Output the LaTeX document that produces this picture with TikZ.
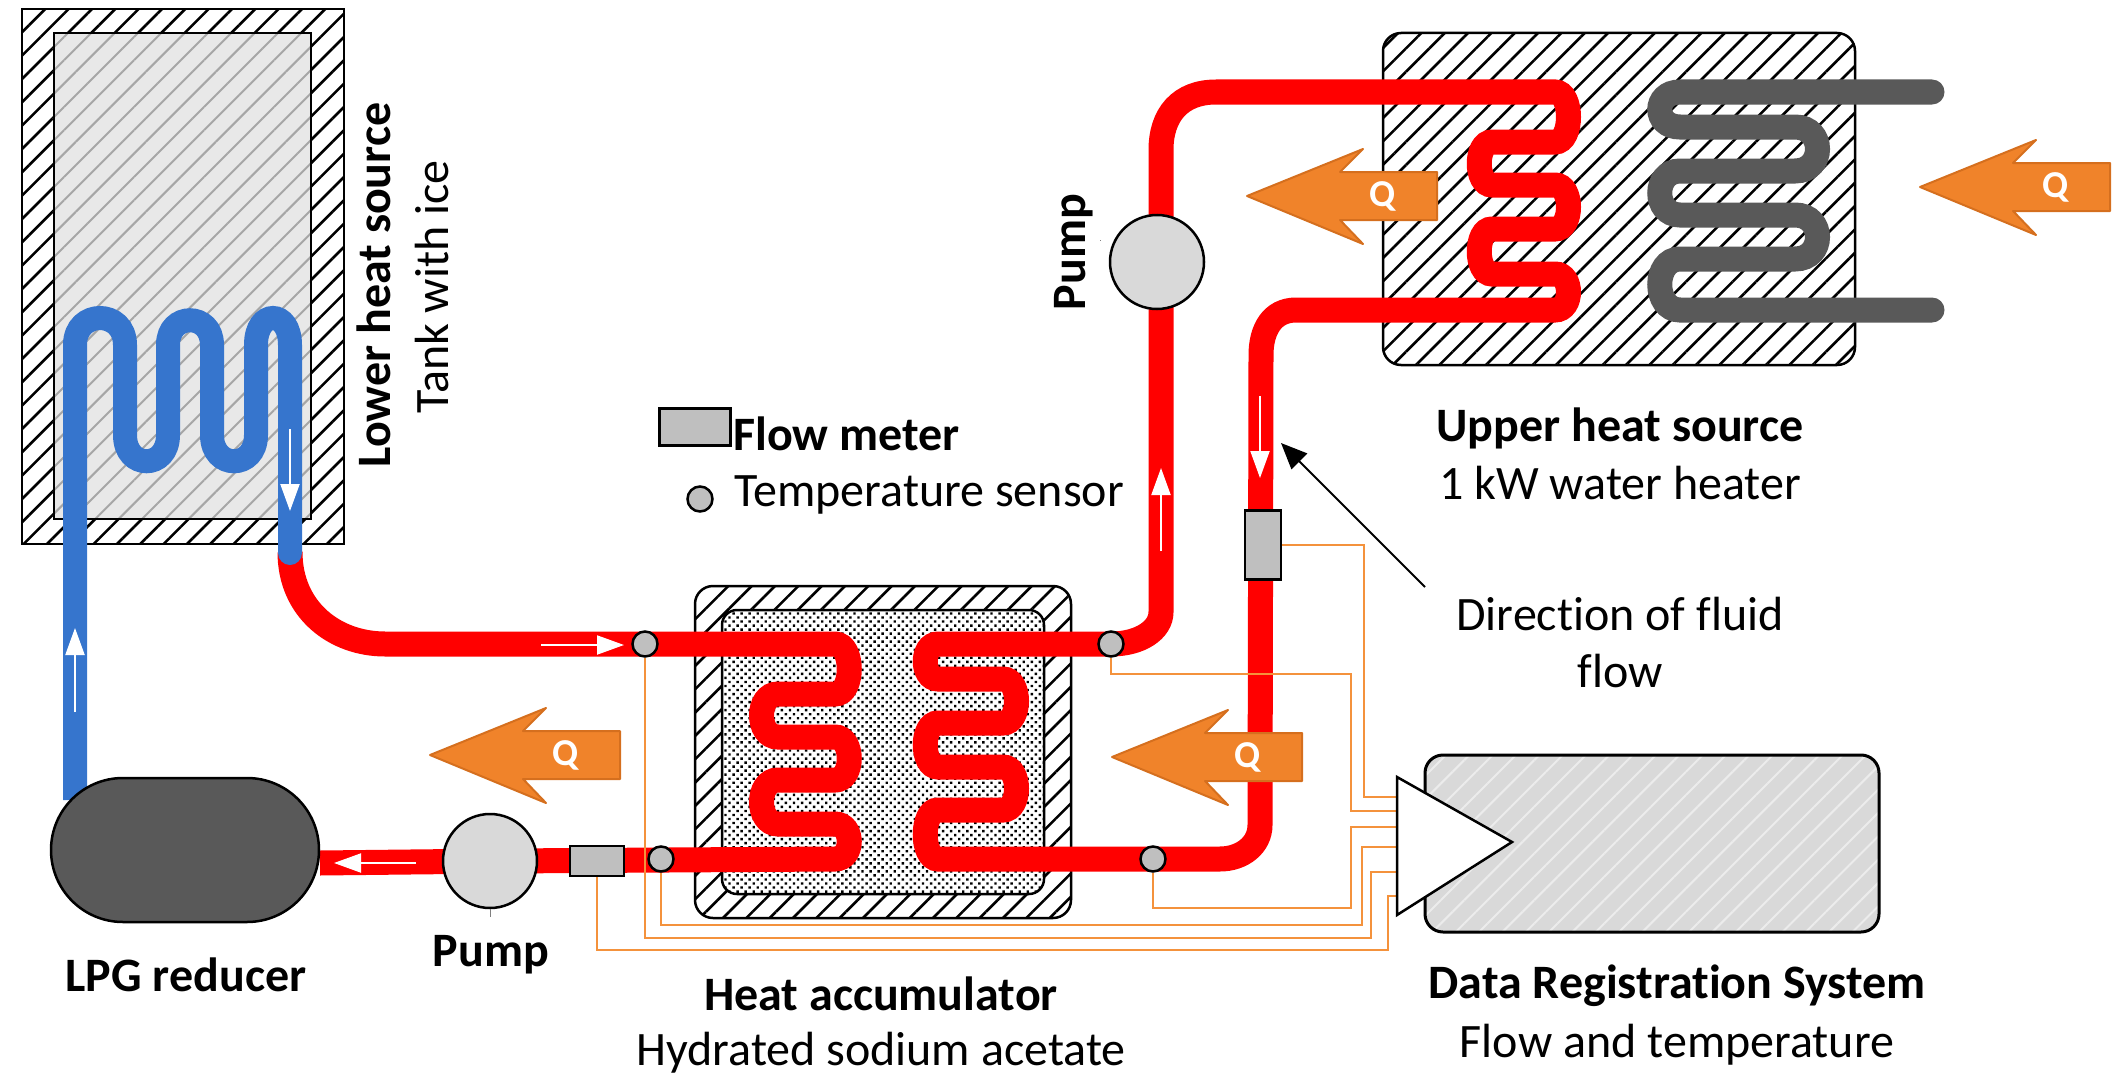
\documentclass[tikz,border=0pt]{standalone}
\usepackage{fontspec}
\setmainfont[Ligatures=NoCommon]{Carlito}
\usetikzlibrary{arrows.meta,patterns.meta,shapes.misc}

\definecolor{pipered}{HTML}{FF0000}
\definecolor{pipeblue}{HTML}{3675CD}
\definecolor{coilgray}{HTML}{595959}
\definecolor{qorange}{HTML}{F0832A}
\definecolor{qedge}{HTML}{D56F1E}
\definecolor{wireorange}{HTML}{F4923C}
\definecolor{metergray}{HTML}{BFBFBF}
\definecolor{pumpgray}{HTML}{D9D9D9}

\tikzset{
    lbl/.style={inner sep=0pt,font=\fontsize{48}{54}\selectfont},
    lblb/.style={inner sep=0pt,font=\fontsize{48}{54}\selectfont\bfseries},
    hatchbox/.style={draw=black,line width=2.5pt,preaction={fill=white},
        pattern={Lines[angle=45,distance=16.5pt,line width=2.6pt]}},
    redpipe/.style={draw=pipered,line width=25pt},
    bluepipe/.style={draw=pipeblue,line width=24pt},
    graypipe/.style={draw=coilgray,line width=25pt},
    wire/.style={draw=wireorange,line width=2pt},
    flowarrow/.style={draw=white,line width=2pt,-{Triangle[length=27pt,width=19pt]}},
    qarrow/.style={fill=qorange,draw=qedge,line width=2pt,line join=round},
    qlabel/.style={inner sep=0pt,text=white,font=\fontsize{38}{44}\selectfont\bfseries},
    sensor/.style={circle,draw=black,line width=2.5pt,fill=metergray,minimum size=25pt,inner sep=0pt},
    meter/.style={rectangle,draw=black,line width=2.5pt,fill=metergray,inner sep=0pt},
    pump/.style={circle,draw=black,line width=2.5pt,fill=pumpgray,minimum size=94pt,inner sep=0pt}
}

\begin{document}
\begin{tikzpicture}[x=1pt,y=1pt]
\useasboundingbox (0,-1081) rectangle (2126,0);

% Boxes
\draw[hatchbox] (22,-9) rectangle (344,-544);
\draw[draw=black,line width=2.5pt,preaction={fill=gray!18},pattern color=gray!70,
    pattern={Lines[angle=45,distance=16.5pt,line width=2pt]}] (54,-33) rectangle (311,-519);
\draw[hatchbox,rounded corners=18pt] (695,-586) rectangle (1071,-918);
\draw[draw=black,line width=2.5pt,preaction={fill=white},rounded corners=15pt,
    pattern={Dots[angle=45,distance=5.7pt,radius=1.7pt]}] (722,-610) rectangle (1044,-894);
\draw[hatchbox,rounded corners=18pt] (1383,-33) rectangle (1855,-365);
\draw[draw=black,line width=3pt,preaction={fill=pumpgray},rounded corners=18pt,pattern color=gray!15,
    pattern={Lines[angle=45,distance=16.5pt,line width=2pt]}] (1425,-755) rectangle (1879,-932);

% Pipes
\draw[bluepipe] (75,-800) -- (75,-345) .. controls +(0,36) and +(0,36) .. (125,-345)
    -- (125,-435) .. controls +(0,-35) and +(0,-35) .. (168,-435)
    -- (168,-345) .. controls +(0,33) and +(0,33) .. (212,-345)
    -- (212,-435) .. controls +(0,-35) and +(0,-35) .. (256,-435)
    -- (256,-345) .. controls +(0,36) and +(0,36) .. (290,-345) -- (290,-553);
\draw[redpipe] (290,-552) .. controls (290,-610) and (335,-644) .. (385,-644) -- (835,-644)
    .. controls +(19,0) and +(19,0) .. (835,-694) -- (778,-694)
    .. controls +(-22,0) and +(-22,0) .. (778,-737) -- (835,-737)
    .. controls +(19,0) and +(19,0) .. (835,-780) -- (778,-780)
    .. controls +(-22,0) and +(-22,0) .. (778,-824) -- (835,-824)
    .. controls +(19,0) and +(19,0) .. (835,-859) -- (500,-861) -- (320,-863);
\draw[redpipe] (1161,-150) .. controls (1161,-115) and (1180,-92) .. (1216,-92) -- (1555,-92)
    .. controls +(18,0) and +(18,0) .. (1555,-142) -- (1492,-142)
    .. controls +(-17,0) and +(-17,0) .. (1492,-185) -- (1555,-185)
    .. controls +(18,0) and +(18,0) .. (1555,-229) -- (1492,-229)
    .. controls +(-17,0) and +(-17,0) .. (1492,-274) -- (1555,-274)
    .. controls +(18,0) and +(18,0) .. (1555,-310) -- (1296,-310)
    .. controls (1272,-310) and (1261,-330) .. (1261,-355) -- (1260,-825)
    .. controls (1260,-845) and (1242,-859) .. (1220,-859) -- (938,-859)
    .. controls +(-17,0) and +(-17,0) .. (938,-810) -- (1003,-810)
    .. controls +(18,0) and +(18,0) .. (1003,-767) -- (938,-767)
    .. controls +(-17,0) and +(-17,0) .. (938,-723) -- (1003,-723)
    .. controls +(18,0) and +(18,0) .. (1003,-679) -- (938,-679)
    .. controls +(-17,0) and +(-17,0) .. (938,-644) -- (1111,-644)
    .. controls (1140,-644) and (1161,-630) .. (1161,-612) -- cycle;
\draw[graypipe,line cap=round] (1932,-92) -- (1680,-92)
    .. controls +(-27,0) and +(-27,0) .. (1680,-127) -- (1795,-127)
    .. controls +(30,0) and +(30,0) .. (1795,-171) -- (1680,-171)
    .. controls +(-27,0) and +(-27,0) .. (1680,-215) -- (1795,-215)
    .. controls +(30,0) and +(30,0) .. (1795,-259) -- (1680,-259)
    .. controls +(-27,0) and +(-27,0) .. (1680,-310) -- (1932,-310);
\draw[bluepipe,line cap=round] (290,-500) -- (290,-553);

% Heat arrows
\foreach \i/\tipx/\tipy in {1/1247/-196, 2/1920/-187, 3/430/-755, 4/1112/-757} {
    \draw[qarrow] (\tipx,\tipy) -- ++(116,47) -- ++(-23,-23) -- ++(97,0) -- ++(0,-48)
        -- ++(-97,0) -- ++(23,-24) -- cycle;
    \node[qlabel] (q\i) at (\tipx+136,\tipy) {Q};
}

% Equipment
\node[rounded rectangle,draw=black,line width=2.5pt,fill=coilgray,minimum width=268pt,
    minimum height=144pt,inner sep=0pt] (reducer) at (185,-850) {};
\node[pump] (pumpb) at (490,-861) {};
\node[pump] (pumpt) at (1157,-262) {};
\node[meter,minimum width=54pt,minimum height=30pt] (fmb) at (597,-861) {};
\node[meter,minimum width=36pt,minimum height=69pt] (fmr) at (1263,-545) {};
\node[meter,minimum width=71pt,minimum height=37pt] (fmkey) at (695,-427) {};
\node[sensor] (tsa) at (645,-644) {};
\node[sensor] (tsb) at (661,-859) {};
\node[sensor] (tsc) at (1111,-644) {};
\node[sensor] (tsd) at (1153,-859) {};
\node[sensor] (tskey) at (700,-499) {};
\coordinate (tickb) at (490,-917);
\coordinate (tickt) at (1100,-240);
\draw[gray,line width=1pt] (pumpb.south) -- (tickb);
\draw[gray,line width=1pt] (tickt) -- ++(1,0);

% Signal wires
\foreach \i/\y in {1/-797, 2/-811, 3/-827, 4/-847, 5/-872, 6/-896} {
    \coordinate (amp\i) at (1397,\y);
}
\draw[wire] (fmr.east) -- (1364,-545) |- (amp1);
\draw[wire] (tsc.south) |- (1351,-674) |- (amp2);
\draw[wire] (tsd.south) |- (1351,-908) |- (amp3);
\draw[wire] (tsb.south) |- (1362,-925) |- (amp4);
\draw[wire] (tsa.south) |- (1371,-938) |- (amp5);
\draw[wire] (fmb.south) |- (1388,-950) |- (amp6);
\draw[draw=black,line width=2.5pt,fill=white,line join=miter] (1397,-777) -- (1512,-842) -- (1397,-915) -- cycle;

% Flow directions
\foreach \i/\ax/\ay/\bx/\by in {
    1/75/-712/75/-628,
    2/290/-429/290/-511,
    3/541/-645/624/-645,
    4/416/-863/334/-863,
    5/1161/-551/1161/-468,
    6/1260/-396/1260/-478
} {
    \coordinate (fs\i) at (\ax,\ay);
    \coordinate (fe\i) at (\bx,\by);
    \draw[flowarrow] (fs\i) -- (fe\i);
}

% Labels
\node[lblb,rotate=90] (lower) at (374,-285) {Lower heat source};
\node[lbl,rotate=90] (tank) at (432,-287) {Tank with ice};
\node[lblb,anchor=west] (fmtext) at (733,-434) {Flow meter};
\node[lbl,anchor=west] (tstext) at (734,-495) {Temperature sensor};
\node[lblb] (upper) at (1620,-428) {Upper heat source};
\node[lbl] (heater) at (1620,-483) {1 kW water heater};
\node[lbl] (dirline) at (1620,-614) {Direction of fluid};
\node[lbl] (flow) at (1620,-671) {flow};
\node[lblb,rotate=90] (pumpttext) at (1074,-252) {Pump};
\node[lblb] (pumpbtext) at (491,-955) {Pump};
\node[lblb] (redtext) at (186,-975) {LPG reducer};
\node[lblb] (acc) at (881,-994) {Heat accumulator};
\node[lbl] (acctext) at (881,-1053) {Hydrated sodium acetate};
\node[lblb] (drs) at (1677,-986) {Data Registration System};
\node[lbl] (drstext) at (1677,-1045) {Flow and temperature};

\coordinate (dirtail) at (1425,-587);
\coordinate (dirtip) at (1281,-443);
\draw[black,line width=2pt,-{Triangle[length=26pt,width=22pt]}] (dirtail) -- (dirtip);
\end{tikzpicture}
\end{document}
